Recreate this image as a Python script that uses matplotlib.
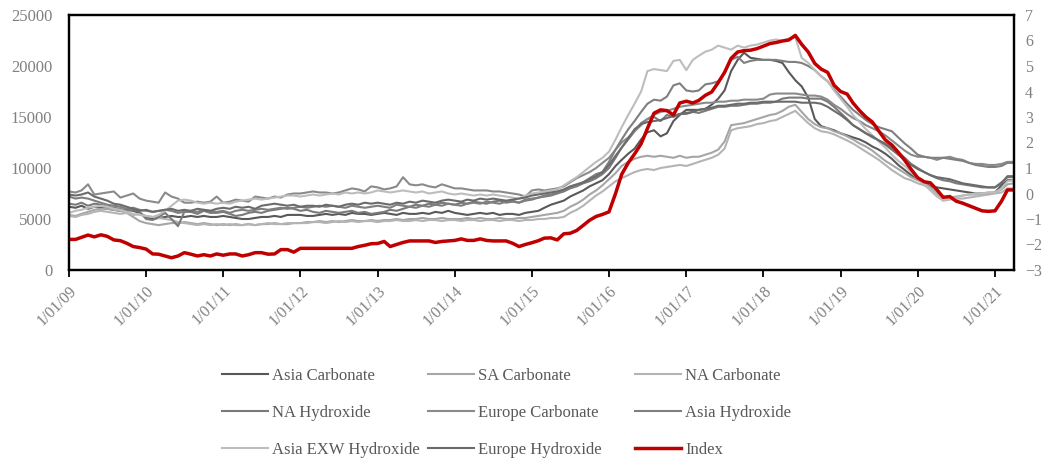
import matplotlib
matplotlib.use("Agg")
import matplotlib.pyplot as plt
import pandas as pd
import numpy as np

plt.rcParams['font.family'] = ['Liberation Serif', 'DejaVu Serif']

dates = pd.date_range('2009-01-01', periods=148, freq='MS')

# values in thousands (USD/t), monthly Jan-2009 .. Apr-2021
asia_carbonate = [
 6.2,6.1,6.3,6.0,6.2,6.1,6.0,5.9,5.8,5.9,5.8,5.6,
 5.2,5.0,5.1,5.2,5.3,5.2,5.2,5.3,5.2,5.3,5.2,5.2,
 5.3,5.2,5.1,5.0,5.0,5.1,5.2,5.2,5.3,5.2,5.4,5.4,
 5.4,5.3,5.3,5.4,5.5,5.4,5.5,5.4,5.6,5.5,5.5,5.4,
 5.5,5.6,5.5,5.4,5.6,5.5,5.5,5.6,5.5,5.7,5.6,5.8,
 5.6,5.5,5.4,5.5,5.6,5.5,5.6,5.4,5.5,5.5,5.4,5.6,
 5.7,5.8,6.1,6.4,6.6,6.8,7.2,7.5,7.8,8.2,8.5,8.8,
 9.4,10.2,10.8,11.4,11.9,12.8,13.5,13.7,13.1,13.4,14.6,15.2,
 15.7,15.7,15.7,15.8,16.2,16.8,17.6,19.5,20.6,21.3,20.8,20.7,
 20.6,20.6,20.5,20.3,19.4,18.6,18.0,16.9,14.8,14.1,13.9,13.7,
 13.4,13.2,13.0,12.8,12.5,12.1,11.8,11.4,10.9,10.3,9.8,9.3,
 8.9,8.6,8.2,8.1,8.0,7.9,7.8,7.7,7.6,7.5,7.5,7.5,
 7.6,8.3,8.8,8.8]
sa_carbonate = [
 5.4,5.3,5.5,5.7,5.9,6.0,6.0,5.9,5.8,5.6,5.2,4.8,
 4.6,4.5,4.4,4.5,4.6,4.6,4.7,4.6,4.5,4.6,4.5,4.4,
 4.5,4.4,4.5,4.4,4.5,4.4,4.5,4.5,4.6,4.5,4.5,4.6,
 4.6,4.7,4.7,4.8,4.7,4.8,4.7,4.8,4.9,4.8,4.8,4.9,
 4.8,4.9,4.9,5.0,4.9,5.0,5.0,5.1,5.0,5.0,5.1,5.0,
 5.0,5.0,5.1,5.0,5.1,5.0,5.0,5.1,5.0,5.0,5.1,5.1,
 5.2,5.3,5.4,5.5,5.6,5.8,6.2,6.5,6.9,7.4,7.8,8.3,
 8.9,9.5,10.2,10.6,10.9,11.1,11.2,11.1,11.2,11.1,11.0,11.2,
 11.0,11.1,11.1,11.3,11.5,11.8,12.6,14.2,14.3,14.4,14.6,14.8,
 15.0,15.2,15.3,15.6,16.0,16.2,15.5,14.8,14.3,14.0,13.9,13.6,
 13.4,13.1,12.8,12.4,12.1,11.7,11.2,10.7,10.3,9.9,9.5,9.1,
 8.8,8.5,8.1,7.6,7.2,7.1,7.2,7.3,7.4,7.4,7.5,7.6,
 7.6,7.9,8.4,8.5]
na_carbonate = [
 5.3,5.2,5.4,5.5,5.7,5.8,5.7,5.6,5.5,5.6,5.4,5.5,
 5.3,5.2,5.1,5.0,4.9,4.7,4.6,4.5,4.4,4.5,4.4,4.5,
 4.4,4.5,4.4,4.4,4.5,4.4,4.5,4.6,4.5,4.5,4.6,4.6,
 4.6,4.6,4.7,4.7,4.6,4.7,4.8,4.7,4.8,4.7,4.8,4.8,
 4.7,4.8,4.8,4.9,4.8,4.8,4.9,4.8,4.9,4.9,4.8,4.9,
 4.9,4.8,4.9,4.9,4.8,4.9,4.9,4.8,4.9,4.9,4.8,4.9,
 4.9,5.0,5.0,5.1,5.1,5.2,5.6,5.9,6.3,6.8,7.3,7.7,
 8.2,8.7,9.0,9.3,9.6,9.8,9.9,9.8,10.0,10.1,10.2,10.3,
 10.2,10.4,10.6,10.8,11.0,11.3,11.9,13.7,13.9,14.0,14.1,14.3,
 14.4,14.6,14.7,15.0,15.3,15.6,15.0,14.4,13.9,13.6,13.5,13.3,
 13.0,12.7,12.4,12.0,11.6,11.2,10.8,10.3,9.8,9.4,9.0,8.8,
 8.5,8.3,8.0,7.4,6.8,6.9,7.0,7.0,7.1,7.2,7.3,7.4,
 7.5,7.6,8.0,8.0]
na_hydroxide = [
 6.5,6.4,6.6,6.3,6.5,6.4,6.2,6.1,6.0,5.8,5.9,5.7,
 5.0,4.9,5.2,5.6,5.0,4.3,5.7,5.7,5.5,5.8,5.6,5.6,
 5.7,5.5,5.3,5.4,5.6,5.7,5.6,5.8,5.9,6.0,6.1,6.0,
 5.8,5.9,5.7,5.6,5.8,5.7,5.6,5.7,5.8,5.6,5.7,5.5,
 5.6,5.7,5.9,5.8,6.0,6.2,6.4,6.3,6.5,6.4,6.6,6.5,
 6.4,6.6,6.5,6.7,6.6,6.5,6.7,6.8,6.6,6.7,6.6,6.8,
 6.9,7.1,7.2,7.3,7.5,7.7,8.0,8.2,8.5,8.7,9.0,9.4,
 10.0,11.0,12.0,12.8,13.6,14.4,14.8,15.0,14.6,15.2,15.0,15.3,
 15.3,15.5,15.4,15.6,15.8,16.0,16.0,16.1,16.1,16.2,16.3,16.3,
 16.4,16.4,16.5,16.8,16.9,16.9,16.9,16.8,16.8,16.8,16.5,16.0,
 15.4,14.8,14.2,13.8,13.4,13.0,12.7,12.4,12.0,11.5,11.0,10.4,
 10.0,9.6,9.3,9.0,8.8,8.7,8.5,8.4,8.3,8.2,8.1,8.1,
 8.1,8.6,9.1,9.1]
europe_carbonate = [
 7.7,7.6,7.8,8.4,7.4,7.5,7.6,7.7,7.1,7.3,7.5,7.0,
 6.8,6.7,6.6,7.6,7.2,7.0,6.6,6.6,6.7,6.6,6.7,7.2,
 6.6,6.7,6.9,6.8,6.7,7.2,7.1,7.0,7.2,7.1,7.4,7.5,
 7.5,7.6,7.7,7.6,7.6,7.5,7.6,7.8,8.0,7.9,7.7,8.2,
 8.1,7.9,8.0,8.2,9.1,8.4,8.3,8.4,8.2,8.1,8.4,8.2,
 8.0,8.0,7.9,7.8,7.8,7.8,7.7,7.7,7.6,7.5,7.4,7.2,
 7.8,7.9,7.8,7.9,8.0,8.2,8.6,9.0,9.3,9.6,10.0,10.5,
 11.0,11.8,12.5,13.0,13.6,14.2,14.8,15.2,15.5,15.6,15.8,16.0,
 16.1,16.2,16.3,16.4,16.4,16.5,16.5,16.6,16.6,16.7,16.7,16.7,
 16.8,17.2,17.3,17.3,17.3,17.3,17.2,17.1,17.1,17.0,16.7,16.2,
 15.8,15.3,14.9,14.6,14.2,13.9,13.6,13.2,12.7,12.2,11.7,11.3,
 11.1,11.1,11.0,10.8,11.0,11.1,10.9,10.8,10.5,10.4,10.4,10.3,
 10.3,10.4,10.6,10.6]
asia_hydroxide = [
 7.2,7.0,7.1,7.0,6.8,6.6,6.4,6.3,6.2,6.0,6.1,5.9,
 5.8,5.7,5.8,5.9,5.8,5.6,5.7,5.8,5.7,5.9,5.8,5.7,
 5.8,5.6,5.8,5.9,5.8,5.9,6.0,5.9,6.0,6.1,6.0,6.1,
 6.2,6.1,6.2,6.3,6.2,6.3,6.2,6.1,6.3,6.2,6.1,6.2,
 6.3,6.2,6.1,6.4,6.3,6.2,6.1,6.3,6.2,6.4,6.3,6.5,
 6.4,6.3,6.5,6.6,6.5,6.7,6.6,6.5,6.7,6.8,6.6,6.9,
 7.0,7.1,7.3,7.4,7.6,7.8,8.1,8.3,8.6,9.0,9.4,9.6,
 10.6,11.8,12.8,13.8,14.6,15.5,16.3,16.7,16.6,17.0,18.1,18.3,
 17.6,17.5,17.6,18.2,18.3,18.5,19.3,20.6,20.9,20.3,20.5,20.6,
 20.6,20.6,20.6,20.5,20.4,20.4,20.3,20.0,19.6,19.0,18.5,17.7,
 17.0,16.3,15.7,15.2,14.7,14.3,14.0,13.8,13.6,13.0,12.4,11.9,
 11.3,11.1,11.0,11.0,11.0,10.9,10.8,10.7,10.5,10.3,10.2,10.1,
 10.1,10.2,10.5,10.5]
asia_exw_hydroxide = [
 5.6,5.8,5.9,6.1,6.2,6.3,6.2,6.0,5.9,5.7,5.5,5.4,
 5.3,5.2,5.4,5.8,6.3,6.8,6.9,6.8,6.6,6.5,6.6,6.5,
 6.6,6.5,6.7,6.8,6.9,7.0,6.9,7.0,7.1,7.2,7.3,7.3,
 7.2,7.3,7.4,7.3,7.4,7.5,7.4,7.6,7.5,7.6,7.5,7.6,
 7.8,7.7,7.6,7.7,7.8,7.7,7.6,7.7,7.5,7.6,7.7,7.5,
 7.4,7.5,7.4,7.3,7.4,7.3,7.4,7.3,7.2,7.1,7.0,7.3,
 7.5,7.6,7.7,7.8,7.9,8.3,8.7,9.1,9.6,10.1,10.6,11.0,
 11.6,12.8,14.0,15.2,16.3,17.5,19.5,19.7,19.6,19.5,20.5,20.6,
 19.6,20.6,21.0,21.4,21.6,22.0,21.8,21.6,22.0,21.8,22.0,22.1,
 22.3,22.5,22.6,22.5,22.7,22.8,20.8,20.3,19.6,19.0,18.5,17.6,
 16.8,16.0,15.2,14.5,13.8,13.2,12.6,12.0,11.3,10.7,10.2,9.6,
 9.0,8.4,7.8,7.2,6.8,7.0,7.1,7.3,7.4,7.5,7.5,7.6,
 7.6,8.0,8.7,8.8]
europe_hydroxide = [
 7.4,7.3,7.4,7.6,7.2,7.0,6.8,6.5,6.4,6.2,6.0,5.8,
 5.9,5.7,5.8,5.9,6.0,5.8,5.9,5.8,6.0,5.9,5.8,6.0,
 6.1,6.0,6.2,6.1,6.2,6.0,6.3,6.4,6.5,6.4,6.3,6.4,
 6.2,6.3,6.3,6.2,6.4,6.3,6.2,6.4,6.5,6.4,6.6,6.5,
 6.6,6.5,6.4,6.6,6.5,6.7,6.6,6.8,6.7,6.6,6.8,6.9,
 6.8,6.7,6.9,6.8,7.0,6.9,7.0,6.9,6.8,6.9,7.0,7.1,
 7.3,7.4,7.5,7.6,7.7,7.9,8.2,8.4,8.6,8.9,9.2,9.6,
 10.3,11.2,12.0,12.9,13.8,14.3,14.5,14.6,14.7,14.9,15.1,15.3,
 15.4,15.5,15.7,15.8,15.9,16.1,16.1,16.2,16.3,16.3,16.4,16.4,
 16.5,16.5,16.5,16.5,16.5,16.5,16.4,16.4,16.4,16.3,16.0,15.6,
 15.2,14.7,14.2,13.8,13.4,13.1,12.7,12.3,11.8,11.3,10.8,10.3,
 9.9,9.6,9.3,9.1,9.0,8.9,8.7,8.5,8.4,8.3,8.2,8.1,
 8.1,8.5,9.2,9.2]
index_vals = [
 -1.80,-1.80,-1.72,-1.63,-1.70,-1.62,-1.68,-1.82,-1.85,-1.95,-2.08,-2.12,
 -2.18,-2.37,-2.38,-2.45,-2.52,-2.45,-2.32,-2.38,-2.45,-2.40,-2.45,-2.37,
 -2.42,-2.37,-2.37,-2.45,-2.40,-2.32,-2.32,-2.38,-2.37,-2.20,-2.20,-2.30,
 -2.15,-2.15,-2.15,-2.15,-2.15,-2.15,-2.15,-2.15,-2.15,-2.08,-2.03,-1.97,
 -1.96,-1.88,-2.08,-2.00,-1.92,-1.86,-1.86,-1.86,-1.86,-1.92,-1.88,-1.86,
 -1.84,-1.78,-1.84,-1.84,-1.78,-1.84,-1.86,-1.86,-1.86,-1.95,-2.08,-2.00,
 -1.93,-1.85,-1.75,-1.74,-1.82,-1.58,-1.56,-1.45,-1.25,-1.05,-0.90,-0.82,
 -0.72,0.00,0.75,1.20,1.55,1.95,2.55,3.15,3.28,3.25,3.08,3.55,
 3.62,3.55,3.65,3.85,3.98,4.35,4.75,5.30,5.55,5.60,5.62,5.68,
 5.78,5.88,5.92,5.98,6.02,6.20,5.85,5.55,5.10,4.88,4.75,4.25,
 4.00,3.90,3.55,3.25,3.00,2.80,2.45,2.10,1.90,1.62,1.30,0.95,
 0.62,0.46,0.42,0.15,-0.15,-0.12,-0.30,-0.38,-0.48,-0.58,-0.68,-0.70,
 -0.68,-0.30,0.14,0.14]

series = [
    ("Asia Carbonate", asia_carbonate, "#595959"),
    ("SA Carbonate", sa_carbonate, "#a6a6a6"),
    ("NA Carbonate", na_carbonate, "#b4b4b4"),
    ("NA Hydroxide", na_hydroxide, "#7a7a7a"),
    ("Europe Carbonate", europe_carbonate, "#8a8a8a"),
    ("Asia Hydroxide", asia_hydroxide, "#7f7f7f"),
    ("Asia EXW Hydroxide", asia_exw_hydroxide, "#bdbdbd"),
    ("Europe Hydroxide", europe_hydroxide, "#6b6b6b"),
]

tick_years = list(range(2009, 2022))
tick_labels = ["1/01/%02d" % (y % 100) for y in tick_years]

W, H = 1046, 462
fig = plt.figure(figsize=(W/100, H/100), dpi=100)
ax = fig.add_axes([69/W, 1-270/H, (1014-69)/W, (270-15)/H])
ax2 = ax.twinx()

handles = {}
for name, vals, col in series:
    ln, = ax.plot(dates, np.array(vals)*1000, color=col, lw=1.5, label=name)
    handles[name] = ln
ln, = ax2.plot(dates, index_vals, color="#c00000", lw=2.5, label="Index")
handles["Index"] = ln

ax.set_ylim(0, 25000)
ax.set_yticks(range(0, 25001, 5000))
ax2.set_ylim(-3, 7)
ax2.set_yticks(range(-3, 8))
ax.set_xlim(pd.Timestamp('2009-01-01'), pd.Timestamp('2021-04-01'))
ax.set_xticks([pd.Timestamp(f'{y}-01-01') for y in tick_years])
ax.set_xticklabels(tick_labels, rotation=45, ha='right', rotation_mode='anchor')

lab_col = "#808080"
ax.tick_params(axis='y', length=0, pad=12, labelsize=12, labelcolor=lab_col)
ax2.tick_params(axis='y', length=0, pad=8, labelsize=11.5, labelcolor=lab_col)
ax.tick_params(axis='x', length=5, width=1.3, direction='out', pad=4,
               labelsize=11.5, labelcolor=lab_col)
for a in (ax, ax2):
    for s in a.spines.values():
        s.set_linewidth(1.6)
        s.set_color("black")

cols = [["Asia Carbonate", "NA Hydroxide", "Asia EXW Hydroxide"],
        ["SA Carbonate", "Europe Carbonate", "Europe Hydroxide"],
        ["NA Carbonate", "Asia Hydroxide", "Index"]]
xs = [222, 428, 635]
for x0, names in zip(xs, cols):
    leg = fig.legend([handles[n] for n in names], names, loc='upper left',
                     bbox_to_anchor=(x0/W, 1-368/H), frameon=False,
                     fontsize=12, handlelength=2.75, handletextpad=0.25,
                     labelspacing=1.25, borderpad=0, borderaxespad=0)
    for t in leg.get_texts():
        t.set_color("#595959")

fig.savefig("out.png", dpi=100)
